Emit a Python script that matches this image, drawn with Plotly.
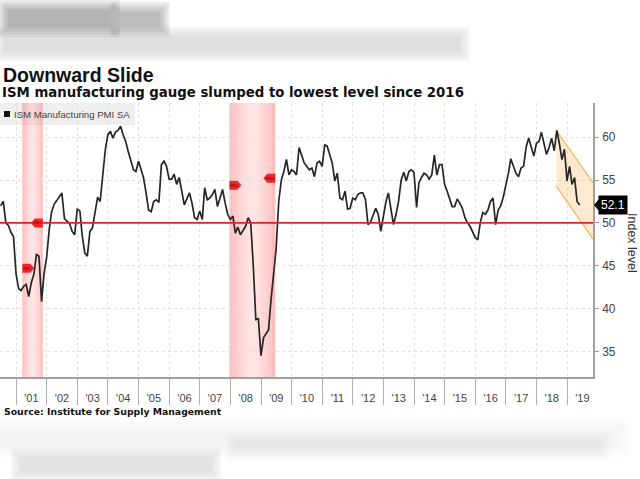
import pandas as pd
import plotly.graph_objects as go

# ---------------- data ----------------
PMI_2000 = [52.0, 52.5, 50.0, 49.7, 48.9, 48.4, 44.0]          # Jun-Dec 2000
PMI_2001 = [42.3, 42.1, 42.6, 42.8, 41.4, 43.0, 44.0, 46.3, 46.1, 40.8, 44.1, 46.0]
PMI_2002 = [49.3, 51.3, 52.2, 52.6, 53.1, 53.5, 50.5, 50.2, 49.9, 49.0, 48.6, 51.6]
PMI_2003 = [51.4, 48.5, 46.5, 46.1, 49.0, 49.4, 51.5, 53.0, 52.5, 55.5, 58.5, 60.3]
PMI_2004 = [60.7, 59.9, 60.6, 60.8, 61.3, 60.3, 59.5, 58.3, 57.2, 56.2, 56.0, 57.2]
PMI_2005 = [56.2, 55.3, 53.5, 51.5, 51.3, 52.5, 52.7, 52.4, 56.8, 57.2, 56.6, 55.1]
PMI_2006 = [55.1, 55.7, 54.5, 55.3, 53.7, 52.1, 52.8, 53.5, 52.3, 50.6, 50.4, 51.4]
PMI_2007 = [50.4, 54.1, 52.7, 52.9, 53.3, 53.9, 51.9, 53.0, 53.9, 52.3, 51.0, 50.4]
PMI_2008 = [50.8, 48.8, 49.5, 48.6, 49.1, 49.6, 50.6, 50.0, 45.0, 38.7, 38.8, 34.5]
PMI_2009 = [36.6, 37.0, 37.5, 41.0, 44.0, 47.0, 52.5, 55.0, 56.0, 57.4, 55.6, 56.2]
PMI_2010 = [56.0, 55.6, 58.8, 57.8, 57.0, 56.6, 56.2, 56.4, 55.4, 57.0, 57.2, 56.6]
PMI_2011 = [59.1, 59.0, 58.0, 57.0, 54.9, 55.8, 52.9, 52.7, 53.7, 51.6, 51.7, 52.9]
PMI_2012 = [52.7, 53.3, 53.5, 53.5, 52.7, 49.8, 50.1, 51.0, 51.7, 51.0, 49.0, 50.8]
PMI_2013 = [52.5, 53.5, 51.5, 49.8, 51.0, 52.5, 55.0, 55.9, 54.9, 56.0, 56.2, 55.9]
PMI_2014 = [51.8, 54.7, 55.3, 55.8, 55.6, 55.1, 55.6, 57.9, 55.6, 56.8, 56.8, 54.5]
PMI_2015 = [53.7, 52.8, 51.9, 51.9, 52.8, 52.3, 51.7, 50.6, 50.0, 49.6, 48.9, 48.3]
PMI_2016 = [48.0, 50.0, 51.2, 51.0, 51.5, 52.5, 52.9, 49.8, 51.5, 52.0, 53.0, 54.3]
PMI_2017 = [55.8, 57.5, 56.5, 55.8, 55.4, 56.4, 56.6, 58.9, 59.9, 58.7, 57.8, 59.3]
PMI_2018 = [59.5, 60.6, 59.3, 58.0, 58.8, 59.9, 58.4, 60.8, 59.3, 57.4, 58.6, 54.9]
PMI_2019 = [56.6, 54.5, 55.3, 52.5, 52.1]                        # Jan-May 2019

PMI = (PMI_2000 + PMI_2001 + PMI_2002 + PMI_2003 + PMI_2004 + PMI_2005 + PMI_2006
       + PMI_2007 + PMI_2008 + PMI_2009 + PMI_2010 + PMI_2011 + PMI_2012 + PMI_2013
       + PMI_2014 + PMI_2015 + PMI_2016 + PMI_2017 + PMI_2018 + PMI_2019)
FIRST_MONTH = "2000-06-01"
DATES = pd.date_range(FIRST_MONTH, periods=len(PMI), freq="MS") + pd.offsets.MonthEnd(0)

YEARS = list(range(2001, 2020))
YEAR_LABELS = ["'01", "'02", "'03", "'04", "'05", "'06", "'07", "'08", "'09", "'10",
               "'11", "'12", "'13", "'14", "'15", "'16", "'17", "'18", "'19"]
Y_TICKS = [35, 40, 45, 50, 55, 60]
X_RANGE = ["2000-06-22", "2019-11-06"]
Y_RANGE = [32.0, 64.0]
THRESHOLD = 50

REC_START = ["2001-03-15", "2007-12-20"]
REC_END = ["2001-11-15", "2009-06-20"]
REC_START_TAG_Y = [44.7, 54.4]
REC_END_TAG_Y = [50.0, 55.2]

CHANNEL_X = ["2018-08-25", X_RANGE[1]]
CHANNEL_TOP = [60.8, 54.7]
CHANNEL_BOTTOM = [54.3, 48.1]

SERIES_NAME = "ISM Manufacturing PMI SA"
TITLE = "Downward Slide"
SUBTITLE = "ISM manufacturing gauge slumped to lowest level since 2016"
SOURCE = "Source: Institute for Supply Management"
Y_TITLE = "Index level"

# ---------------- layout geometry (pixels) ----------------
W, H = 640, 479
ML, MR, MT, MB = 0, 47, 103, 102
PW, PH = W - ML - MR, H - MT - MB


def px(xp):
    return (xp - ML) / PW


def py(yp):
    return (H - MB - yp) / PH


FONT = "Liberation Sans"
BFONT = "DejaVu Sans"
fig = go.Figure()

# orange channel
fig.add_trace(go.Scatter(
    x=[CHANNEL_X[0], CHANNEL_X[1], CHANNEL_X[1], CHANNEL_X[0], CHANNEL_X[0]],
    y=[CHANNEL_TOP[0], CHANNEL_TOP[1], CHANNEL_BOTTOM[1], CHANNEL_BOTTOM[0], CHANNEL_TOP[0]],
    fill="toself", fillcolor="rgba(253,196,120,0.35)", line=dict(width=0),
    mode="lines", hoverinfo="skip", showlegend=False))
fig.add_trace(go.Scatter(x=CHANNEL_X, y=CHANNEL_TOP, mode="lines",
                         line=dict(color="#f7b35e", width=1.2), showlegend=False))
fig.add_trace(go.Scatter(x=CHANNEL_X, y=CHANNEL_BOTTOM, mode="lines",
                         line=dict(color="#f7b35e", width=1.2), showlegend=False))

# main line
fig.add_trace(go.Scatter(x=DATES, y=PMI, mode="lines", name=SERIES_NAME,
                         line=dict(color="#262626", width=1.7), showlegend=False))

shapes = []
# legend background (drawn first so the bands overlay it)
shapes.append(dict(type="rect", xref="paper", yref="paper", x0=px(0), x1=px(135),
                   y0=py(125), y1=py(103), fillcolor="#efefef", line=dict(width=0),
                   layer="below"))
# recession bands, gradient (darker at edges)
N = 14
for s, e in zip(REC_START, REC_END):
    s_ts, e_ts = pd.Timestamp(s), pd.Timestamp(e)
    span = e_ts - s_ts
    for i in range(N):
        a = s_ts + span * i / N
        b = s_ts + span * (i + 1) / N
        c = abs((i + 0.5) / N - 0.5) * 2  # 0 center, 1 edges
        alpha = 0.16 + 0.26 * c ** 1.5
        shapes.append(dict(type="rect", xref="x", yref="paper", x0=a, x1=b, y0=0, y1=1,
                           fillcolor=f"rgba(255,90,90,{alpha:.3f})", line=dict(width=0),
                           layer="below"))
# 50 threshold line
shapes.append(dict(type="line", xref="paper", yref="y", x0=0, x1=1, y0=THRESHOLD,
                   y1=THRESHOLD, line=dict(color="#ee1c2e", width=1.6), layer="above"))
# recession tags
for d, yv in zip(REC_START, REC_START_TAG_Y):
    shapes.append(dict(type="path", xref="x", yref="y", xsizemode="pixel", ysizemode="pixel",
                       xanchor=d, yanchor=yv, path="M0,-4.5 L8,-4.5 L12,0 L8,4.5 L0,4.5 Z",
                       fillcolor="#f0262e", line=dict(width=0), layer="above"))
for d, yv in zip(REC_END, REC_END_TAG_Y):
    shapes.append(dict(type="path", xref="x", yref="y", xsizemode="pixel", ysizemode="pixel",
                       xanchor=d, yanchor=yv, path="M0,-4.5 L-8,-4.5 L-12,0 L-8,4.5 L0,4.5 Z",
                       fillcolor="#f0262e", line=dict(width=0), layer="above"))
# legend square
shapes.append(dict(type="rect", xref="paper", yref="paper", x0=px(4), x1=px(10),
                   y0=py(117), y1=py(111), fillcolor="#111111", line=dict(width=0),
                   layer="above"))
# last value pointer
shapes.append(dict(type="path", xref="paper", yref="y", xsizemode="pixel", ysizemode="pixel",
                   xanchor=1, yanchor=PMI[-1], path="M1,0 L6,-6 L6,6 Z",
                   fillcolor="#000000", line=dict(width=0), layer="above"))
# blurred page content above and below the chart (unreadable in the reference),
# drawn as soft stacked rectangles
blur = [
    (8, 10, 110, 27, 0.60, 100),
    (120, 12, 160, 27, 0.50, 100),
    (4, 36, 460, 52, 0.32, 150),
    (0, 428, 620, 447, 0.14, 190),
    (20, 457, 212, 473, 0.30, 160),
    (235, 442, 600, 452, 0.20, 180),
]
K = 5
for x0, y0, x1, y1, a, g in blur:
    for k in range(K):
        grow = (K - 1 - k) * 2.5
        shapes.append(dict(type="rect", xref="paper", yref="paper",
                           x0=px(x0 - grow), x1=px(x1 + grow),
                           y0=py(y1 + grow), y1=py(y0 - grow),
                           fillcolor=f"rgba({g},{g},{g},{a / K:.3f})",
                           line=dict(width=0), layer="above"))

annotations = [
    dict(text=f"<b>{TITLE}</b>", xref="paper", yref="paper", x=px(1), y=py(75),
         xanchor="left", yanchor="middle", showarrow=False,
         font=dict(family=FONT, size=19.5, color="#111111")),
    dict(text=f"<b>{SUBTITLE}</b>", xref="paper", yref="paper", x=px(0), y=py(92),
         xanchor="left", yanchor="middle", showarrow=False,
         font=dict(family=BFONT, size=13.3, color="#111111")),
    dict(text=f"<b>{SOURCE}</b>", xref="paper", yref="paper", x=px(2), y=py(411),
         xanchor="left", yanchor="middle", showarrow=False,
         font=dict(family=BFONT, size=9.3, color="#111111")),
    dict(text=SERIES_NAME, xref="paper", yref="paper", x=px(12), y=py(114),
         xanchor="left", yanchor="middle", showarrow=False,
         font=dict(family=FONT, size=9.6, color="#444444")),
    dict(text=Y_TITLE, xref="paper", yref="paper", x=px(632), y=py(243),
         xanchor="center", yanchor="middle", showarrow=False, textangle=90,
         font=dict(family=FONT, size=12.5, color="#333333")),
    dict(text=f"{PMI[-1]:.1f}", xref="paper", yref="y", x=1, y=PMI[-1], xshift=5,
         xanchor="left", yanchor="middle", showarrow=False, bgcolor="#000000",
         borderpad=2, font=dict(family=FONT, size=12, color="#ffffff")),
]
for d, yv in zip(REC_START, REC_START_TAG_Y):
    annotations.append(dict(text="REC", xref="x", yref="y", x=d, y=yv, xshift=5,
                            showarrow=False, font=dict(family=FONT, size=4, color="#5a0000")))
for d, yv in zip(REC_END, REC_END_TAG_Y):
    annotations.append(dict(text="REC", xref="x", yref="y", x=d, y=yv, xshift=-5,
                            showarrow=False, font=dict(family=FONT, size=4, color="#5a0000")))

fig.update_layout(
    width=W, height=H,
    margin=dict(l=ML, r=MR, t=MT, b=MB, pad=0),
    paper_bgcolor="#ffffff", plot_bgcolor="#ffffff",
    showlegend=False,
    shapes=shapes, annotations=annotations,
    xaxis=dict(
        type="date", range=X_RANGE,
        tickmode="array", tickvals=[f"{y}-07-02" for y in YEARS], ticktext=YEAR_LABELS,
        ticks="", showgrid=False, zeroline=False,
        showline=True, linecolor="#a0a0a0", linewidth=2,
        tickfont=dict(family=FONT, size=11, color="#444444"),
        ticklabelstandoff=10,
        minor=dict(tickmode="array", tickvals=[f"{y}-01-01" for y in YEARS],
                   ticks="outside", ticklen=26, tickcolor="#b0b0b0", tickwidth=1,
                   showgrid=True, gridcolor="#e0e0e0", griddash="dot", gridwidth=1),
    ),
    yaxis=dict(
        side="right", range=Y_RANGE, tickmode="array", tickvals=Y_TICKS,
        ticks="outside", ticklen=4, tickcolor="#9a9a9a", tickwidth=1,
        showline=True, linecolor="#a0a0a0", linewidth=1.5,
        showgrid=True, gridcolor="#e0e0e0", griddash="dot", gridwidth=1,
        zeroline=False, tickfont=dict(family=FONT, size=12, color="#444444"),
        ticklabelstandoff=1,
    ),
)

fig.write_html("out.html", config={"displayModeBar": False},
               post_script="document.body.style.margin='0';")
